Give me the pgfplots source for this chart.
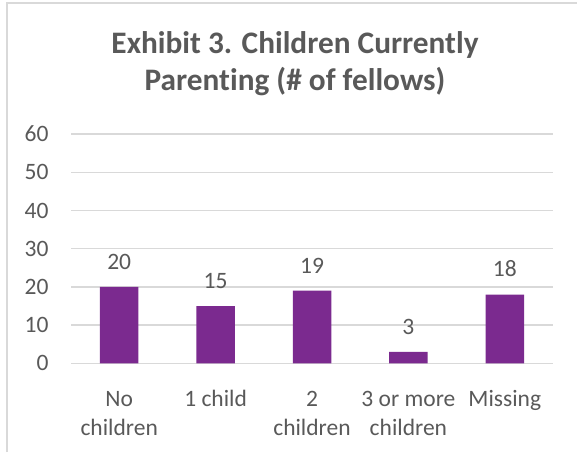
\documentclass[border=0pt]{standalone}
\usepackage{pgfplots}
\pgfplotsset{compat=1.18}
\usepackage{fontspec}
\setmainfont[Ligatures=NoCommon]{Carlito}
\definecolor{txtgray}{HTML}{595959}
\definecolor{gridgray}{HTML}{D9D9D9}
\definecolor{barpurple}{HTML}{7B2A8F}
\begin{document}
\begin{tikzpicture}[x=1pt,y=1pt]
\path[use as bounding box] (0,0) rectangle (577,-452);
\draw[gridgray, line width=1.3pt] (7,-452) -- (7,-3) -- (577,-3);
\node[anchor=base, text=txtgray, font=\fontsize{31.3}{37}\selectfont\bfseries, inner sep=0pt] at (295,-53.3) {Exhibit 3. Children Currently};
\node[anchor=base, text=txtgray, font=\fontsize{31.3}{37}\selectfont\bfseries, inner sep=0pt] at (295,-90.7) {Parenting (\# of fellows)};
\begin{axis}[
  at={(71pt,-363.3pt)}, anchor=south west,
  scale only axis, width=482pt, height=229.2pt,
  xmin=-0.5, xmax=4.5, ymin=0, ymax=60,
  ytick={0,10,...,60},
  xtick=data,
  xticklabels={{No\\children},{1 child\\\strut},{2\\children},{3 or more\\children},{Missing\\\strut}},
  axis line style={draw=none},
  major tick style={draw=none},
  ymajorgrids,
  grid style={gridgray, line width=1.3pt},
  ybar, bar width=38.5pt,
  /pgf/number format/assume math mode=true,
  ticklabel style={text=txtgray, font=\fontsize{23.5}{29.4}\selectfont},
  yticklabel style={xshift=-19pt},
  xticklabel style={align=center, anchor=base, yshift=-68.4pt},
  nodes near coords,
  every node near coord/.append style={text=txtgray, font=\fontsize{23.5}{29}\selectfont, yshift=14pt},
]
\addplot[draw=none, fill=barpurple] coordinates {(0,20) (1,15) (2,19) (3,3) (4,18)};
\end{axis}
\end{tikzpicture}
\end{document}
